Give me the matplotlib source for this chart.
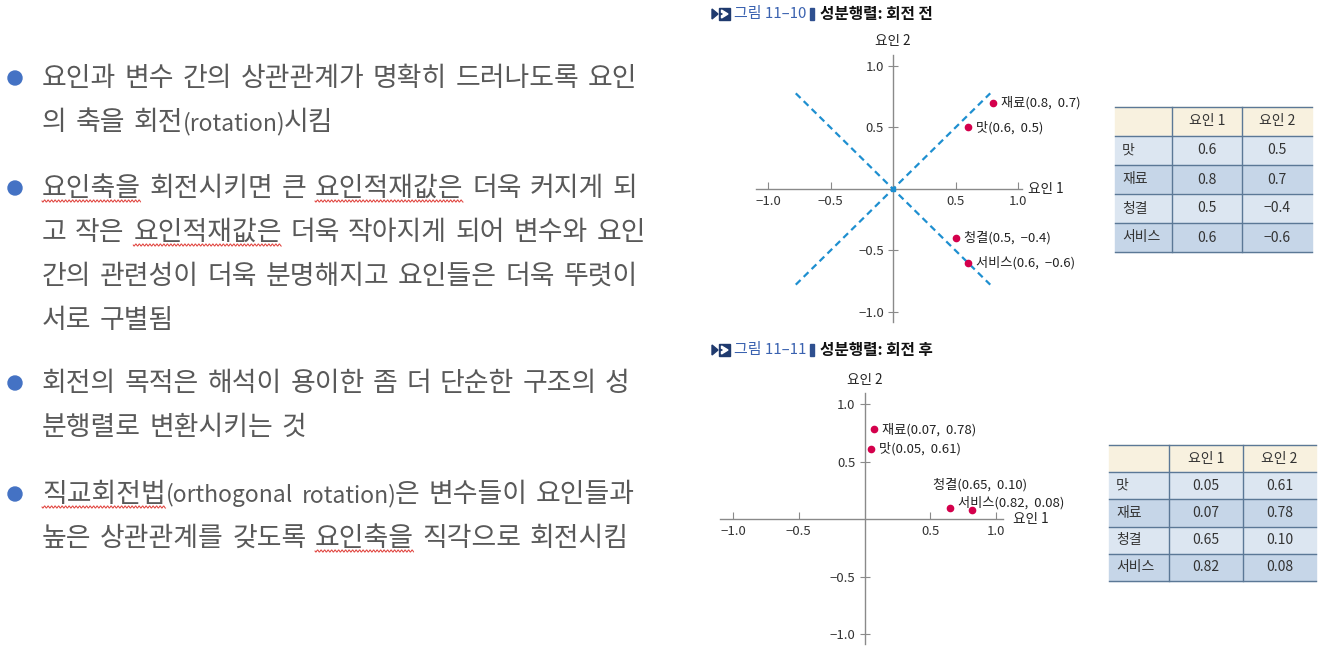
import matplotlib
matplotlib.use("Agg")
import matplotlib.pyplot as plt
from matplotlib.patches import Rectangle, Circle, Polygon
import numpy as np

plt.rcParams['font.family'] = ['Noto Sans CJK KR', 'DejaVu Sans']
plt.rcParams['axes.unicode_minus'] = True

# ---------------- data ----------------
variables = ['맛', '재료', '청결', '서비스']
factor_names = ['요인 1', '요인 2']
before_f1 = [0.6, 0.8, 0.5, 0.6]
before_f2 = [0.5, 0.7, -0.4, -0.6]
after_f1 = [0.05, 0.07, 0.65, 0.82]
after_f2 = [0.61, 0.78, 0.10, 0.08]
rotation_angles = [45, -45]      # rotated axes (degrees)
rotated_axis_len = 1.1
ticks = [-1.0, -0.5, 0.5, 1.0]

title_before = ('그림 11–10', '성분행렬: 회전 전')
title_after = ('그림 11–11', '성분행렬: 회전 후')

bullets = [
    ['요인과 변수 간의 상관관계가 명확히 드러나도록 요인',
     '의 축을 회전(rotation)시킴'],
    ['요인축을 회전시키면 큰 요인적재값은 더욱 커지게 되',
     '고 작은 요인적재값은 더욱 작아지게 되어 변수와 요인',
     '간의 관련성이 더욱 분명해지고 요인들은 더욱 뚜렷이',
     '서로 구별됨'],
    ['회전의 목적은 해석이 용이한 좀 더 단순한 구조의 성',
     '분행렬로 변환시키는 것'],
    ['직교회전법(orthogonal rotation)은 변수들이 요인들과',
     '높은 상관관계를 갖도록 요인축을 직각으로 회전시킴'],
]
# spell-check underlines: (bullet, line, word)
spell_marks = [(1, 0, '요인축을'), (1, 0, '요인적재값은'), (1, 1, '요인적재값은'),
               (3, 0, '직교회전법'), (3, 1, '요인축을')]

def fmt(v, nd):
    s = f"{abs(v):.{nd}f}"
    return ('−' if v < 0 else '') + s

# ---------------- figure ----------------
W, H = 1341, 654
fig = plt.figure(figsize=(W / 100, H / 100), dpi=100)
bg = fig.add_axes([0, 0, 1, 1])
bg.set_xlim(0, W)
bg.set_ylim(H, 0)
bg.axis('off')
renderer = fig.canvas.get_renderer()

TEXT_C = '#595959'
BULLET_C = '#4472C4'
BODY_FAM = ['Noto Sans CJK KR', 'DejaVu Sans']

def measure(s, **kw):
    t = bg.text(0, 0, s, **kw)
    w = t.get_window_extent(renderer).width
    t.remove()
    return w

# calibrate Hangul size to the reference's character pitch
FS_H = 19.3 * 247 / measure('가나다라마바사아자차', fontsize=19.3, family=BODY_FAM)
FS_L = FS_H * 0.85
WORD_GAP = 8.5
RUN_GAP = 0.5

def is_hangul(c):
    o = ord(c)
    return 0xAC00 <= o <= 0xD7A3 or 0x3130 <= o <= 0x318F or 0x1100 <= o <= 0x11FF

def split_runs(tok):
    runs = []
    for c in tok:
        h = is_hangul(c)
        if runs and runs[-1][1] == h:
            runs[-1][0] += c
        else:
            runs.append([c, h])
    return runs

# ---- left bullet text ----
bullet_y0 = [78, 188, 383, 494]
line_h = 44
run_boxes = {}
for b, (by, lines) in enumerate(zip(bullet_y0, bullets)):
    bg.add_patch(Circle((15, by), 7, color=BULLET_C, zorder=3))
    for i, ln in enumerate(lines):
        x = 42
        base = by + i * line_h + 8
        boxes = []
        for tok in ln.split(' '):
            for k, (run, h) in enumerate(split_runs(tok)):
                if k > 0:
                    x += RUN_GAP
                fs = FS_H if h else FS_L
                t = bg.text(x, base, run, color=TEXT_C, va='baseline', ha='left',
                            fontsize=fs, family=BODY_FAM)
                w = t.get_window_extent(renderer).width
                boxes.append((run, x, x + w))
                x += w
                if not h and run.endswith(')'):
                    x -= 2.5
            x += WORD_GAP
        run_boxes[(b, i)] = boxes

for b, l, word in spell_marks:
    for run, x0, x1 in run_boxes[(b, l)]:
        if run == word:
            yy = bullet_y0[b] + l * line_h + 13
            xs = np.arange(x0, x1, 0.5)
            bg.plot(xs, yy + 1.1 * np.sin((xs - x0) * 2 * np.pi / 3.5),
                    color='#E0403A', lw=0.7, zorder=3)
            break

# ---- titles ----
def draw_title(y, fig_label, text):
    bg.add_patch(Polygon([[712, y - 5], [712, y + 5], [718, y]], closed=True,
                         color='#1F3A6E', zorder=3))
    bg.add_patch(Rectangle((719, y - 6), 11, 12, color='#1F3A6E', zorder=3))
    bg.add_patch(Polygon([[721.5, y - 4], [728, y], [721.5, y + 4], [721.5, y + 1.8],
                          [724.5, y], [721.5, y - 1.8]], closed=True,
                         color='white', zorder=4))
    bg.text(734, y, fig_label, fontsize=10.8, color='#3A62B0', va='center', ha='left')
    bg.add_patch(Rectangle((810, y - 6), 4, 12, color='#2E4F8F', zorder=3))
    bg.text(820, y, text, fontsize=11.3, color='#111111', va='center', ha='left',
            fontweight='bold')

draw_title(14, *title_before)
draw_title(350, *title_after)

# ---- charts ----
AX_C = '#8a8a8a'
PT_C = '#D4004C'
LINE_C = '#1E8FD0'
LBL_C = '#222222'

def make_chart(ox, oy, sx, sy, L, R, T, B, xb, yb):
    ax = fig.add_axes([L / W, 1 - B / H, (R - L) / W, (B - T) / H])
    ax.set_facecolor('none')
    ax.set_xlim((L - ox) / sx, (R - ox) / sx)
    ax.set_ylim((oy - B) / sy, (oy - T) / sy)
    for s in ['top', 'right']:
        ax.spines[s].set_visible(False)
    ax.spines['left'].set_position(('data', 0))
    ax.spines['bottom'].set_position(('data', 0))
    ax.spines['left'].set_bounds(*yb)
    ax.spines['bottom'].set_bounds(*xb)
    for s in ['left', 'bottom']:
        ax.spines[s].set_color(AX_C)
        ax.spines[s].set_linewidth(1.0)
    ax.set_xticks(ticks)
    ax.set_yticks(ticks)
    ax.set_xticklabels([fmt(t, 1) for t in ticks])
    ax.set_yticklabels([fmt(t, 1) for t in ticks])
    ax.tick_params(axis='x', direction='in', length=5, color=AX_C, labelsize=9.5,
                   labelcolor='#333333', pad=4)
    ax.tick_params(axis='y', direction='inout', length=7, color=AX_C, labelsize=9.5,
                   labelcolor='#333333', pad=3)
    return ax

# top chart
ax1 = make_chart(893, 189, 125, 123, 745, 1080, 50, 330, (-1.1, 1.03), (-1.08, 1.09))
for ang in rotation_angles:
    a = np.deg2rad(ang)
    dx, dy = rotated_axis_len * np.cos(a), rotated_axis_len * np.sin(a)
    ax1.plot([-dx, dx], [-dy, dy], ls=(0, (3, 2)), color=LINE_C, lw=1.6, zorder=2)
ax1.plot([0], [0], 's', color=LINE_C, ms=3.5, zorder=3)
ax1.plot(before_f1, before_f2, 'o', color=PT_C, ms=4.5, zorder=4, ls='none')
for v, x, y in zip(variables, before_f1, before_f2):
    ax1.annotate(f"{v}({fmt(x,1)},  {fmt(y,1)})", (x, y), xytext=(6, 0),
                 textcoords='offset points', va='center', ha='left',
                 fontsize=9.5, color=LBL_C)
ax1.text(1.08, 0, factor_names[0], fontsize=9.8, color=LBL_C, va='center', ha='left')
ax1.text(0, 1.2, factor_names[1], fontsize=9.8, color=LBL_C, va='center', ha='center')

# bottom chart
ax2 = make_chart(864.5, 519, 131.5, 115, 712, 1080, 370, 648, (-1.1, 1.05), (-1.09, 1.1))
ax2.plot(after_f1, after_f2, 'o', color=PT_C, ms=4.5, zorder=4, ls='none')
offsets = [(6, 0), (6, 0), (-12.5, 16), (-10, 5)]
for v, x, y, (ox, oy) in zip(variables, after_f1, after_f2, offsets):
    ax2.annotate(f"{v}({fmt(x,2)},  {fmt(y,2)})", (x, y), xytext=(ox, oy),
                 textcoords='offset points', va='center', ha='left',
                 fontsize=9.5, color=LBL_C)
ax2.text(1.13, 0, factor_names[0], fontsize=9.8, color=LBL_C, va='center', ha='left')
ax2.text(0, 1.21, factor_names[1], fontsize=9.8, color=LBL_C, va='center', ha='center')

# ---- tables ----
HEAD_BG = '#F8F1DF'
ROW_BG = ['#DCE6F1', '#C6D6E8']
GRID_C = '#5B7896'

def draw_table(x0, y0, colw, rowh, f1, f2, nd):
    xs = np.concatenate([[x0], x0 + np.cumsum(colw)])
    nrows = len(variables) + 1
    ys = [y0 + i * rowh for i in range(nrows + 1)]
    bg.add_patch(Rectangle((xs[0], ys[0]), xs[-1] - xs[0], rowh, color=HEAD_BG, zorder=1))
    for i in range(len(variables)):
        bg.add_patch(Rectangle((xs[0], ys[i + 1]), xs[-1] - xs[0], rowh,
                               color=ROW_BG[i % 2], zorder=1))
    for yy in ys:
        bg.plot([xs[0], xs[-1]], [yy, yy], color=GRID_C, lw=1.0, zorder=2)
    for xx in xs[1:-1]:
        bg.plot([xx, xx], [ys[0], ys[-1]], color=GRID_C, lw=1.0, zorder=2)
    for j, name in enumerate(factor_names):
        bg.text((xs[j + 1] + xs[j + 2]) / 2, ys[0] + rowh / 2, name, fontsize=10,
                color='#333333', ha='center', va='center', zorder=3)
    for i, v in enumerate(variables):
        cy = ys[i + 1] + rowh / 2
        bg.text(xs[0] + 7, cy, v, fontsize=10, color='#333333', ha='left', va='center', zorder=3)
        bg.text((xs[1] + xs[2]) / 2, cy, fmt(f1[i], nd), fontsize=10, color='#333333',
                ha='center', va='center', zorder=3)
        bg.text((xs[2] + xs[3]) / 2, cy, fmt(f2[i], nd), fontsize=10, color='#333333',
                ha='center', va='center', zorder=3)

draw_table(1115, 107, np.array([57, 70, 70]), 29, before_f1, before_f2, 1)
draw_table(1109, 445, np.array([60, 74, 73]), 27.2, after_f1, after_f2, 2)

fig.savefig('out.png', dpi=100)
